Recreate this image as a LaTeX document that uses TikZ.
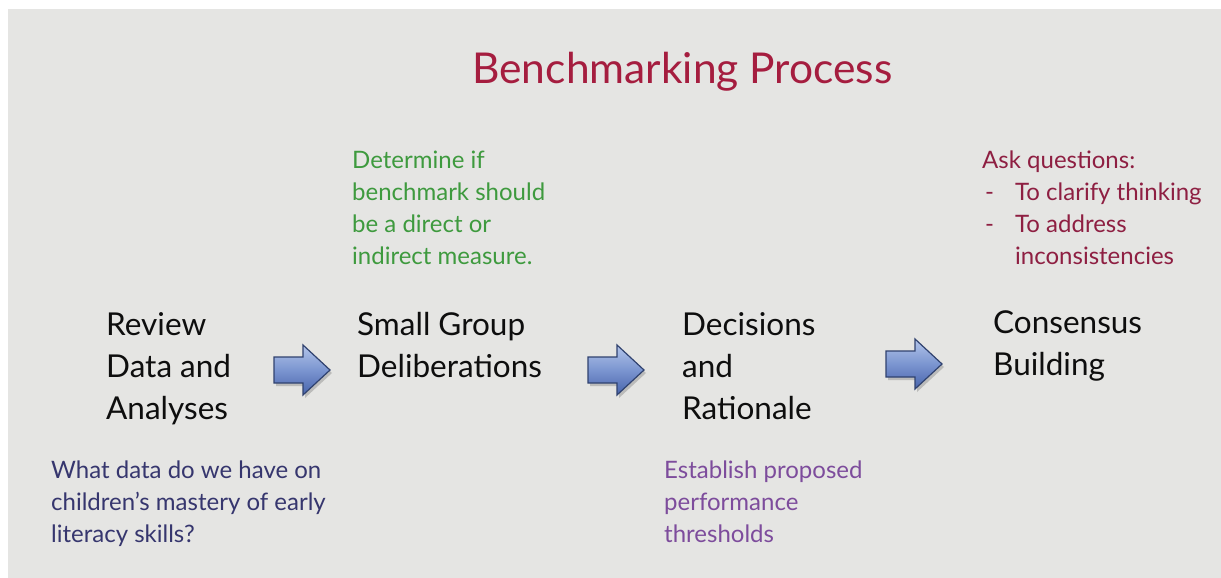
\documentclass[tikz,border=0pt]{standalone}
\usepackage{fontspec}
\setmainfont{Lato}
\definecolor{slidebg}{HTML}{E5E5E3}
\definecolor{titlered}{HTML}{A51D3F}
\definecolor{notegreen}{HTML}{3E9A3E}
\definecolor{notered}{HTML}{8E1F42}
\definecolor{notenavy}{HTML}{36366E}
\definecolor{notepurple}{HTML}{7D4C9C}
\definecolor{steptext}{HTML}{0E0E0E}
\definecolor{arrowlight}{HTML}{B3C5EA}
\definecolor{arrowmid}{HTML}{7B95D0}
\definecolor{arrowdark}{HTML}{4864AC}
\definecolor{arrowedge}{HTML}{30426F}
\tikzset{
  steplabel/.style={anchor=north west, inner sep=0pt, align=left, text=steptext,
    font=\fontsize{31.5}{42}\selectfont},
  notelabel/.style={anchor=north west, inner sep=0pt, align=left,
    font=\fontsize{24}{32}\selectfont},
  blockarrow/.pic={
    \fill[black, opacity=0.18] (2,-10) -- (31,-10) -- (31,-22) -- (58,3) -- (31,28) -- (31,16) -- (2,16) -- cycle;
    \draw[arrowedge, line width=1.2pt, line join=miter, top color=arrowlight, bottom color=arrowdark, middle color=arrowmid]
      (0,-13) -- (29,-13) -- (29,-25) -- (56,0) -- (29,25) -- (29,13) -- (0,13) -- cycle;
  }
}
\begin{document}
\begin{tikzpicture}[x=1pt,y=-1pt]
\useasboundingbox (0,0) rectangle (1221,578);
\fill[white] (0,0) rectangle (1221,578);
\fill[slidebg] (8,9) rectangle (1221,578);

\node[anchor=base, inner sep=0pt, text=titlered, font=\fontsize{42.5}{50}\selectfont] (title) at (682.5,84) {Benchmarking Process};

\node[steplabel] (review) at (106,312) {Review\\Data and\\Analyses};
\node[steplabel] (small) at (357,312) {Small Group\\Deliberations};
\node[steplabel] (decide) at (682,312) {Decisions\\and\\Rationale};
\node[steplabel] (consensus) at (993,310) {Consensus\\Building};

\pic at (274,370) {blockarrow};
\pic at (588,370) {blockarrow};
\pic at (886,364) {blockarrow};

\node[notelabel, text=notegreen] (determine) at (352,151) {Determine if\\benchmark should\\be a direct or\\indirect measure.};
\node[notelabel, text=notered] (ask) at (982,151) {Ask questions:\\\makebox[33pt][l]{\hspace{3pt}-}To clarify thinking\\\makebox[33pt][l]{\hspace{3pt}-}To address\\\hspace*{33pt}inconsistencies};
\node[notelabel, text=notenavy] (whatdata) at (51,461) {What data do we have on\\children’s mastery of early\\literacy skills?};
\node[notelabel, text=notepurple] (establish) at (664,461) {Establish proposed\\performance\\thresholds};
\end{tikzpicture}
\end{document}
